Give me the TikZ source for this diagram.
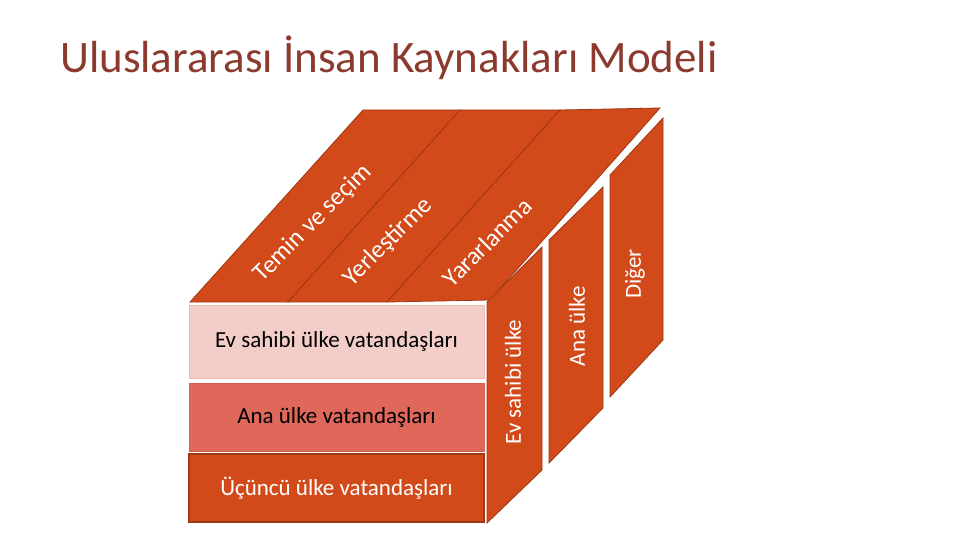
\documentclass[tikz,border=0pt]{standalone}
\usepackage{fontspec}
\setmainfont{Carlito}
\definecolor{orng}{HTML}{D24A1A}
\definecolor{edgec}{HTML}{9E3815}
\definecolor{pinkl}{HTML}{F3CEC8}
\definecolor{salmon}{HTML}{E0685B}
\definecolor{titlec}{HTML}{8C3A2D}
\begin{document}
\begin{tikzpicture}[x=1pt,y=-1pt,
  face/.style={fill=orng,draw=edgec,line width=0.8pt,line join=miter},
  rowbox/.style={minimum width=295pt,inner sep=0pt,line width=0.8pt},
  wtext/.style={text=white,font=\fontsize{25}{30}\selectfont,inner sep=0pt},
  btext/.style={font=\fontsize{23}{28}\selectfont}]
\useasboundingbox (0,0) rectangle (960,540);
\node[anchor=base west,text=titlec,font=\fontsize{45}{54}\selectfont,inner sep=0pt] (title) at (60,73) {Uluslararası İnsan Kaynakları Modeli};
% top face strips
\draw[face] (190,302) -- (288,302) -- (460,110) -- (363,110) -- cycle;
\draw[face] (288,302) -- (387,302) -- (560,110) -- (460,110) -- cycle;
\draw[face] (387,302) -- (490,300) -- (660,108) -- (560,110) -- cycle;
% side slabs
\draw[face] (487,302) -- (542,247) -- (542,470) -- (487,523) -- cycle;
\draw[face] (549,240) -- (603,187) -- (603,408) -- (549,463) -- cycle;
\draw[face] (610,175) -- (663,118) -- (663,340) -- (610,397) -- cycle;
% front rows
\node[rowbox,fill=pinkl,draw=pinkl!80!salmon,minimum height=73pt,btext] (r1) at (336.5,341.5) {Ev sahibi ülke vatandaşları};
\node[rowbox,fill=salmon,draw=salmon!85!edgec,minimum height=68pt,btext] (r2) at (336.5,417) {Ana ülke vatandaşları};
\node[rowbox,fill=orng,draw=edgec,line width=1.2pt,minimum height=68pt,btext,text=white] (r3) at (336.5,488) {Üçüncü ülke vatandaşları};
% top labels
\node[wtext,rotate=45] (t1) at (313,223) {Temin ve seçim};
\node[wtext,rotate=45] (t2) at (388,242) {Yerleştirme};
\node[wtext,rotate=45] (t3) at (487,242) {Yararlanma};
% side labels
\node[wtext,rotate=90,font=\fontsize{23}{28}\selectfont] (s1) at (513,382) {Ev sahibi ülke};
\node[wtext,rotate=90,font=\fontsize{23}{28}\selectfont] (s2) at (577,326) {Ana ülke};
\node[wtext,rotate=90,font=\fontsize{23}{28}\selectfont] (s3) at (635,274) {Diğer};
\end{tikzpicture}
\end{document}
